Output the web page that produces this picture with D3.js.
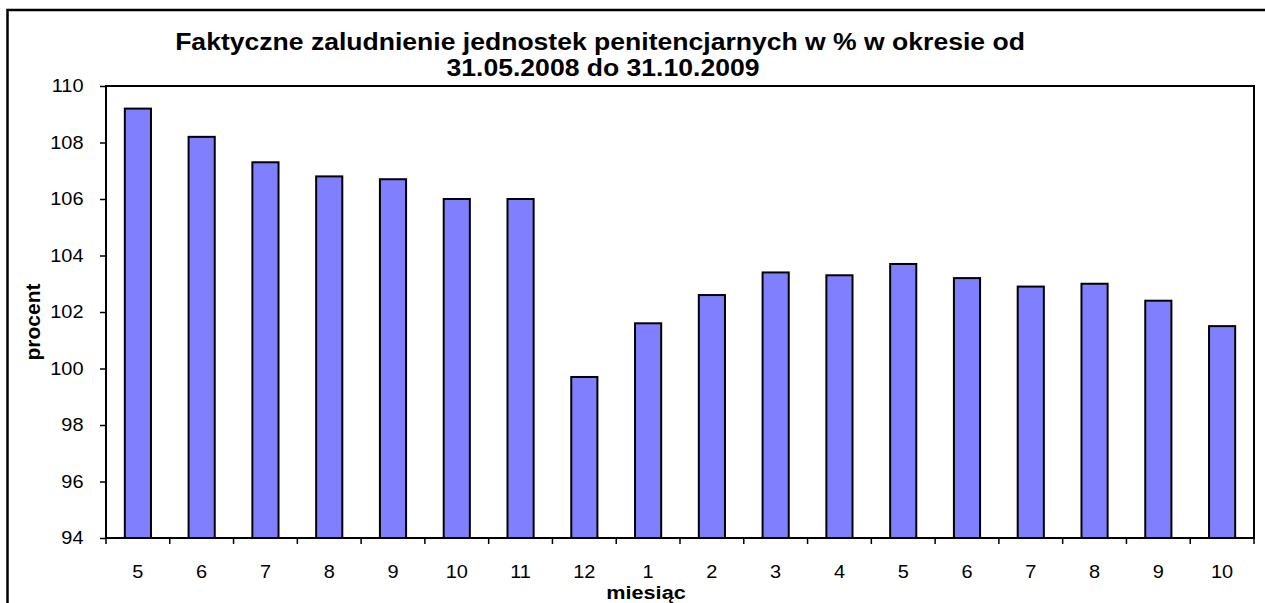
<!doctype html>
<html lang="pl">
  <head>
    <meta charset="UTF-8" />
    <title>Faktyczne zaludnienie jednostek penitencjarnych</title>
    <script src="https://d3js.org/d3.v7.min.js"></script>
    <style>
      body {
        margin: 0;
        padding: 0;
        background: #fff;
        font-family: Arial, 'Liberation Sans', sans-serif;
      }
      .axis text {
        font-size: 17.5px;
        fill: #000;
        font-family: Arial, 'Liberation Sans', sans-serif;
      }
      .axis path,
      .axis line {
        stroke: #000;
        stroke-width: 1.5px;
      }
    </style>
  </head>
  <body>
    <svg id="chart" width="1265" height="603"></svg>

    <script>
      // months 31.05.2008 .. 31.10.2009
      const months = [
        '5', '6', '7', '8', '9', '10', '11', '12',
        '1', '2', '3', '4', '5', '6', '7', '8', '9', '10',
      ];
      const values = [
        109.2, 108.2, 107.3, 106.8, 106.7, 106.0, 106.0, 99.7,
        101.6, 102.6, 103.4, 103.3, 103.7, 103.2, 102.9, 103.0, 102.4, 101.5,
      ];
      const yTicks = [94, 96, 98, 100, 102, 104, 106, 108, 110];
      const titleLines = [
        'Faktyczne zaludnienie jednostek penitencjarnych w % w okresie od',
        '31.05.2008 do 31.10.2009',
      ];

      const data = months.map((m, i) => ({ key: i, month: m, value: values[i] }));

      // the original picture is slightly stretched horizontally
      const sx = 1.14;

      const svg = d3.select('#chart');

      const margin = { top: 86, right: 11, bottom: 65, left: 106 };
      const width = 1265 - margin.left - margin.right;
      const height = 603 - margin.top - margin.bottom;

      // outer frame (runs off the bottom and right of the window)
      svg
        .append('rect')
        .attr('x', 7.5)
        .attr('y', 10)
        .attr('width', 1300)
        .attr('height', 700)
        .attr('fill', 'none')
        .attr('stroke', '#000')
        .attr('stroke-width', 2.5);

      // title
      const titleX = [600, 603];
      const titleY = [50, 76];
      svg
        .selectAll('.title')
        .data(titleLines)
        .enter()
        .append('text')
        .attr('class', 'title')
        .attr('transform', (d, i) => `translate(${titleX[i]},${titleY[i]}) scale(${sx},1)`)
        .attr('text-anchor', 'middle')
        .style('font-size', '23.3px')
        .style('font-weight', 'bold')
        .text((d) => d);

      const g = svg
        .append('g')
        .attr('transform', `translate(${margin.left},${margin.top})`);

      const x = d3
        .scaleBand()
        .domain(data.map((d) => d.key))
        .range([0, width])
        .paddingInner(0.59)
        .paddingOuter(0.295);

      const y = d3.scaleLinear().domain([94, 110]).range([height, 0]);

      // bars
      g.selectAll('.bar')
        .data(data)
        .enter()
        .append('rect')
        .attr('class', 'bar')
        .attr('x', (d) => x(d.key))
        .attr('y', (d) => y(d.value))
        .attr('width', x.bandwidth())
        .attr('height', (d) => height - y(d.value))
        .attr('fill', '#8080ff')
        .attr('stroke', '#000')
        .attr('stroke-width', 2);

      // plot area border
      g.append('rect')
        .attr('x', 0)
        .attr('y', 0)
        .attr('width', width)
        .attr('height', height)
        .attr('fill', 'none')
        .attr('stroke', '#000')
        .attr('stroke-width', 2);

      // y axis
      const yAxis = g
        .append('g')
        .attr('class', 'axis')
        .call(d3.axisLeft(y).tickValues(yTicks).tickSize(6));
      yAxis.select('.domain').remove();
      yAxis
        .selectAll('text')
        .attr('x', -22.5 / sx)
        .attr('transform', `scale(${sx},1)`);

      // x axis: ticks at category boundaries, labels centered in bands
      const boundaries = d3.range(months.length + 1).map((i) => i * (width / months.length));
      g.append('g')
        .attr('class', 'axis')
        .selectAll('line')
        .data(boundaries)
        .enter()
        .append('line')
        .attr('x1', (d) => d)
        .attr('x2', (d) => d)
        .attr('y1', height)
        .attr('y2', height + 6)
        .attr('stroke', '#000')
        .attr('stroke-width', 1.5);

      g.append('g')
        .attr('class', 'axis')
        .selectAll('text')
        .data(data)
        .enter()
        .append('text')
        .attr(
          'transform',
          (d) => `translate(${x(d.key) + x.bandwidth() / 2},${height + 40}) scale(${sx},1)`
        )
        .attr('text-anchor', 'middle')
        .text((d) => d.month);

      // axis titles
      svg
        .append('text')
        .attr('transform', 'translate(40,322) rotate(-90)')
        .attr('text-anchor', 'middle')
        .style('font-size', '21px')
        .style('font-weight', 'bold')
        .text('procent');

      svg
        .append('text')
        .attr('transform', `translate(646,598.5) scale(${sx},1)`)
        .attr('text-anchor', 'middle')
        .style('font-size', '19px')
        .style('font-weight', 'bold')
        .text('miesiąc');
    </script>
  </body>
</html>
